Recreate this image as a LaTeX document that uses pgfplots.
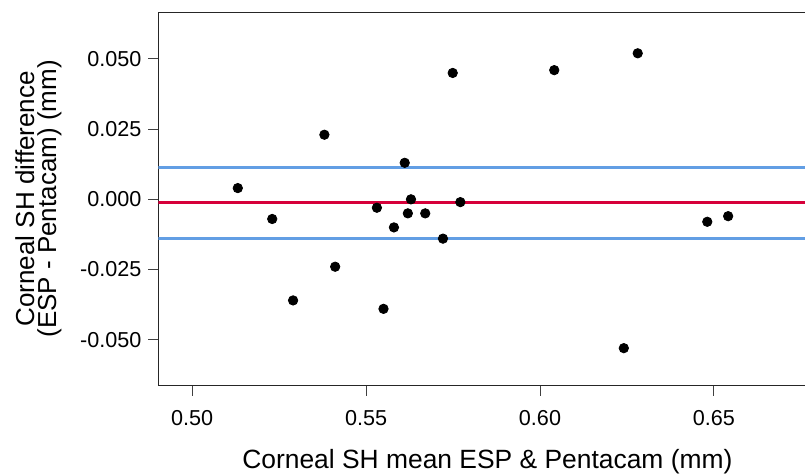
\documentclass[border=0pt]{standalone}
\usepackage{fontspec}
\setmainfont{Liberation Sans}
\usepackage{pgfplots}
\pgfplotsset{compat=1.18}
\definecolor{loablue}{RGB}{98,158,228}
\definecolor{meanred}{RGB}{214,0,58}

\pgfplotstableread{
x      y
0.5131  0.0040
0.5230 -0.0070
0.5290 -0.0360
0.5380  0.0230
0.5411 -0.0240
0.5531 -0.0030
0.5550 -0.0390
0.5580 -0.0100
0.5611  0.0130
0.5620 -0.0050
0.5629  0.0000
0.5670 -0.0050
0.5721 -0.0140
0.5749  0.0450
0.5771 -0.0010
0.6041  0.0460
0.6241 -0.0530
0.6281  0.0520
0.6481 -0.0080
0.6541 -0.0060
}\diffdata

\begin{document}
\begin{tikzpicture}
\begin{axis}[
  scale only axis,
  width=323.25pt, height=186.6pt,
  xmin=0.4903, xmax=0.6762,
  ymin=-0.0663, ymax=0.0666,
  axis x line=box, axis y line=left,
  axis line style={-, line width=0.5pt, black!85},
  xtick pos=bottom,
  tick align=outside,
  major tick length=5pt,
  tick style={line width=0.5pt, black!75},
  xtick={0.5,0.55,0.6,0.65},
  ytick={-0.05,-0.025,0,0.025,0.05},
  scaled ticks=false,
  /pgf/number format/assume math mode=true,
  xticklabel style={/pgf/number format/.cd, fixed, fixed zerofill, precision=2, /tikz/.cd,
    font=\fontsize{10.8}{13}\selectfont, yshift=-4pt},
  yticklabel style={/pgf/number format/.cd, fixed, fixed zerofill, precision=3, /tikz/.cd,
    font=\fontsize{10.8}{13}\selectfont},
  xlabel={Corneal SH mean ESP \& Pentacam (mm)},
  every axis x label/.style={at={(axis description cs:0.5087,0)}, anchor=base,
    yshift=-41.25pt, font=\fontsize{13.2}{16}\selectfont},
  ylabel={Corneal SH difference\\(ESP - Pentacam) (mm)},
  every axis y label/.style={at={(axis description cs:-0.2220,0.5)}, rotate=90,
    anchor=north, align=center, inner sep=0pt, font=\fontsize{13}{10.9}\selectfont},
]
% limits of agreement and mean difference
\addplot[loablue, line width=1.5pt] coordinates {(0.4903,0.0114) (0.6762,0.0114)};
\addplot[loablue, line width=1.5pt] coordinates {(0.4903,-0.0141) (0.6762,-0.0141)};
\addplot[meanred, line width=1.5pt] coordinates {(0.4903,-0.0013) (0.6762,-0.0013)};
\addplot[only marks, mark=*, mark size=2.35pt, mark options={fill=black, draw=none}]
  table[x=x, y=y] {\diffdata};
\end{axis}
\pgfresetboundingbox
\path[use as bounding box] ([shift={(-79.25pt,-43.75pt)}]current axis.south west)
  rectangle ([shift={(0pt,6.15pt)}]current axis.north east);
\end{tikzpicture}
\end{document}
